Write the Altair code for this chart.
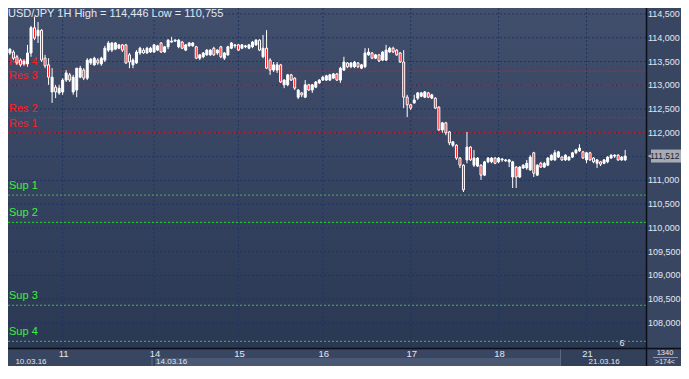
import altair as alt
import pandas as pd

# ---------------- data ----------------
opens = [113.68, 113.70, 113.60, 113.53, 113.45, 113.45, 113.68, 114.21, 114.04, 114.16,
         113.57, 113.43, 112.86, 112.96, 112.84, 112.86, 113.11, 113.22, 112.86, 112.90,
         113.17, 113.32, 113.15, 113.47, 113.43, 113.53, 113.45, 113.53, 113.74, 113.74,
         113.76, 113.78, 113.85, 113.85, 113.64, 113.43, 113.47, 113.68, 113.74, 113.68,
         113.70, 113.70, 113.74, 113.89, 113.70, 113.81, 113.91, 113.93, 113.81, 113.91,
         113.74, 113.83, 113.83, 113.81, 113.57, 113.60, 113.64, 113.64, 113.78, 113.68,
         113.81, 113.57, 113.64, 113.78, 113.83, 113.85, 113.78, 113.81, 113.78, 113.81,
         113.85, 113.95, 113.60, 113.78, 113.53, 113.32, 113.32, 113.43, 113.01, 113.01,
         113.22, 113.15, 112.75, 112.84, 112.75, 113.01, 112.90, 112.96, 113.05, 113.11,
         113.11, 113.11, 113.15, 113.24, 113.11, 113.32, 113.47, 113.39, 113.39, 113.47,
         113.36, 113.39, 113.64, 113.68, 113.57, 113.64, 113.53, 113.53, 113.70, 113.78,
         113.74, 113.68, 113.49, 112.75, 112.59, 112.63, 112.73, 112.77, 112.75, 112.84,
         112.73, 112.73, 112.54, 112.06, 112.21, 112.02, 111.74, 111.74, 111.47, 111.32,
         111.43, 111.70, 111.32, 111.30, 111.32, 111.11, 111.39, 111.39, 111.47, 111.39,
         111.43, 111.41, 111.39, 111.07, 111.28, 111.07, 111.26, 111.26, 111.22, 111.58,
         111.11, 111.36, 111.28, 111.32, 111.43, 111.43, 111.49, 111.49, 111.43, 111.43,
         111.49, 111.58, 111.62, 111.60, 111.43, 111.58, 111.47, 111.36, 111.39, 111.36,
         111.39, 111.47, 111.51, 111.53, 111.43, 111.43]
highs = [113.78, 113.74, 113.64, 113.57, 113.55, 113.85, 114.25, 114.446, 114.33, 114.18,
         113.64, 113.57, 113.36, 113.01, 113.01, 113.15, 113.32, 113.26, 113.22, 113.36,
         113.41, 113.36, 113.57, 113.57, 113.60, 113.57, 113.60, 113.83, 113.93, 113.91,
         113.91, 113.87, 113.87, 113.87, 113.68, 113.57, 113.74, 113.81, 113.78, 113.81,
         113.81, 113.87, 113.85, 113.91, 113.83, 113.97, 114.02, 113.97, 113.97, 113.93,
         113.87, 113.91, 113.91, 113.83, 113.66, 113.70, 113.76, 113.76, 113.81, 113.76,
         113.83, 113.70, 113.83, 113.91, 113.87, 113.87, 113.87, 113.85, 113.87, 113.93,
         113.97, 113.97, 114.06, 114.16, 113.57, 113.49, 113.49, 113.45, 113.13, 113.24,
         113.24, 113.17, 112.92, 112.86, 113.11, 113.03, 113.03, 113.09, 113.13, 113.20,
         113.22, 113.24, 113.26, 113.26, 113.39, 113.60, 113.49, 113.49, 113.51, 113.49,
         113.45, 113.78, 113.78, 113.70, 113.66, 113.66, 113.72, 113.85, 113.81, 113.81,
         113.76, 113.70, 113.74, 112.80, 112.61, 112.80, 112.86, 112.86, 112.88, 112.86,
         112.82, 112.75, 112.56, 112.23, 112.23, 112.04, 111.83, 111.76, 111.49, 111.34,
         112.02, 111.72, 111.64, 111.49, 111.34, 111.41, 111.49, 111.49, 111.49, 111.49,
         111.47, 111.45, 111.45, 111.41, 111.30, 111.30, 111.34, 111.43, 111.53, 111.60,
         111.34, 111.39, 111.39, 111.49, 111.55, 111.64, 111.62, 111.51, 111.55, 111.51,
         111.60, 111.66, 111.76, 111.62, 111.60, 111.60, 111.49, 111.45, 111.41, 111.45,
         111.51, 111.55, 111.55, 111.55, 111.51, 111.64]
lows = [113.64, 113.53, 113.43, 113.39, 113.41, 113.39, 113.60, 113.95, 113.89, 113.49,
        113.36, 113.01, 112.63, 112.73, 112.80, 112.80, 113.07, 113.07, 112.80, 112.75,
        113.15, 113.11, 113.11, 113.43, 113.41, 113.43, 113.41, 113.49, 113.70, 113.70,
        113.74, 113.76, 113.70, 113.45, 113.36, 113.36, 113.45, 113.64, 113.66, 113.66,
        113.68, 113.68, 113.72, 113.68, 113.68, 113.76, 113.89, 113.91, 113.78, 113.76,
        113.72, 113.81, 113.81, 113.55, 113.53, 113.57, 113.62, 113.62, 113.62, 113.64,
        113.57, 113.53, 113.62, 113.76, 113.78, 113.72, 113.76, 113.78, 113.76, 113.78,
        113.83, 113.72, 113.57, 113.34, 113.22, 113.28, 113.26, 113.05, 112.94, 112.98,
        113.09, 112.90, 112.71, 112.75, 112.73, 112.88, 112.84, 112.94, 113.03, 113.09,
        113.09, 113.09, 113.13, 113.09, 113.05, 113.30, 113.36, 113.36, 113.36, 113.36,
        113.34, 113.36, 113.62, 113.55, 113.55, 113.49, 113.51, 113.51, 113.68, 113.68,
        113.62, 113.47, 112.52, 112.33, 112.48, 112.61, 112.69, 112.75, 112.73, 112.73,
        112.71, 112.50, 112.04, 112.00, 111.95, 111.74, 111.70, 111.43, 111.26, 110.755,
        111.36, 111.41, 111.28, 111.28, 111.01, 111.09, 111.36, 111.36, 111.34, 111.36,
        111.39, 111.39, 111.28, 110.84, 110.84, 111.05, 111.24, 111.22, 111.20, 111.07,
        111.09, 111.26, 111.26, 111.30, 111.41, 111.41, 111.47, 111.41, 111.41, 111.41,
        111.47, 111.55, 111.60, 111.45, 111.36, 111.41, 111.36, 111.26, 111.30, 111.34,
        111.36, 111.45, 111.47, 111.41, 111.41, 111.41]
closes = [113.76, 113.57, 113.47, 113.43, 113.51, 113.68, 114.21, 113.99, 114.16, 113.53,
          113.41, 113.17, 113.17, 112.86, 112.94, 113.11, 113.26, 113.11, 113.17, 113.36,
          113.36, 113.15, 113.53, 113.55, 113.57, 113.47, 113.57, 113.78, 113.89, 113.89,
          113.89, 113.85, 113.74, 113.47, 113.49, 113.53, 113.70, 113.78, 113.68, 113.78,
          113.78, 113.85, 113.83, 113.70, 113.81, 113.95, 113.93, 113.95, 113.95, 113.78,
          113.85, 113.89, 113.89, 113.57, 113.64, 113.68, 113.74, 113.74, 113.64, 113.74,
          113.60, 113.68, 113.81, 113.89, 113.85, 113.74, 113.85, 113.83, 113.85, 113.91,
          113.95, 113.74, 113.78, 113.36, 113.32, 113.43, 113.43, 113.07, 113.11, 113.22,
          113.11, 112.94, 112.90, 112.80, 113.01, 112.90, 113.01, 113.07, 113.11, 113.17,
          113.20, 113.22, 113.24, 113.11, 113.36, 113.49, 113.39, 113.47, 113.49, 113.39,
          113.43, 113.68, 113.70, 113.57, 113.64, 113.51, 113.70, 113.74, 113.78, 113.70,
          113.64, 113.49, 112.75, 112.59, 112.52, 112.69, 112.84, 112.84, 112.86, 112.75,
          112.80, 112.52, 112.06, 112.21, 112.00, 111.79, 111.81, 111.47, 111.32, 110.80,
          111.70, 111.43, 111.47, 111.47, 111.11, 111.39, 111.47, 111.47, 111.36, 111.47,
          111.45, 111.43, 111.43, 111.39, 111.07, 111.28, 111.32, 111.36, 111.49, 111.15,
          111.32, 111.28, 111.36, 111.47, 111.53, 111.58, 111.60, 111.43, 111.53, 111.49,
          111.58, 111.64, 111.68, 111.47, 111.58, 111.43, 111.39, 111.43, 111.34, 111.43,
          111.49, 111.53, 111.53, 111.43, 111.49, 111.512]

res_names = ["Res 4", "Res 3", "Res 2", "Res 1"]
res_levels = [113.295, 113.0, 112.32, 112.0]
sup_names = ["Sup 1", "Sup 2", "Sup 3", "Sup 4"]
sup_levels = [110.69, 110.118, 108.373, 107.615]

day_start_bar = [15, 41, 65, 89, 114, 139, 164]
day_labels = ["11", "14", "15", "16", "17", "18", "21"]
week_start_bar = [1, 41, 164]
week_labels = ["10.03.16", "14.03.16", "21.03.16"]

# grid every 0.5; the 111,500 label is hidden behind the last-price tag in the reference
price_ticks = [108.0, 108.5, 109.0, 109.5, 110.0, 110.5, 111.0, 111.5,
               112.0, 112.5, 113.0, 113.5, 114.0, 114.5]
price_labels = [108.0, 108.5, 109.0, 109.5, 110.0, 110.5, 111.0,
                112.0, 112.5, 113.0, 113.5, 114.0, 114.5]

title_text = "USD/JPY 1H  High = 114,446 Low = 110,755"
last_label = "111,512"
bars_count_label = "1340"
visible_label = ">174<"

# ---------------- chart ----------------
FONT = "Liberation Sans"
GRID = "#1f3560"
TXT = "#e2e7f0"
PW, PH = 638, 340          # plot area
TW, TH = 673, 358          # whole drawing (fits the window without scrolling)

candles = pd.DataFrame({"bar": list(range(len(closes))), "open": opens,
                        "high": highs, "low": lows, "close": closes})

xs = alt.Scale(domain=[0.88, 179.5], nice=False, zero=False)
ys = alt.Scale(domain=[107.474, 114.626], nice=False, zero=False)

one = pd.DataFrame({"k": [0]})

plot_bg = alt.Chart(one).mark_rect(
    color=alt.LinearGradient(gradient="linear",
                             stops=[alt.GradientStop(color="#414f6d", offset=0),
                                    alt.GradientStop(color="#2a3854", offset=1)],
                             x1=0, x2=0, y1=0, y2=1)).encode(
    x=alt.value(0), x2=alt.value(PW), y=alt.value(0), y2=alt.value(PH))

grid_h = alt.Chart(pd.DataFrame({"p": price_ticks})).mark_rule(
    color=GRID, strokeDash=[2, 2], strokeWidth=1).encode(
    y=alt.Y("p:Q", scale=ys, axis=None), x=alt.value(0), x2=alt.value(PW))
price_text = alt.Chart(pd.DataFrame({"p": price_labels})).transform_calculate(
    lbl="replace(format(datum.p, '.3f'), '.', ',')").mark_text(
    align="left", baseline="middle", font=FONT, fontSize=9, color=TXT).encode(
    x=alt.value(640), y=alt.Y("p:Q", scale=ys, axis=None), text="lbl:N")

days = pd.DataFrame({"bar": day_start_bar, "label": day_labels})
grid_v = alt.Chart(days).mark_rule(color=GRID, strokeDash=[2, 2], strokeWidth=1).encode(
    x=alt.X("bar:Q", scale=xs, axis=None), y=alt.value(0), y2=alt.value(PH))

res = pd.DataFrame({"name": res_names, "level": res_levels})
sup = pd.DataFrame({"name": sup_names, "level": sup_levels})

res_rules = alt.Chart(res).mark_rule(color="#d81818", strokeDash=[3, 2], strokeWidth=1).encode(
    y=alt.Y("level:Q", scale=ys, axis=None), x=alt.value(0), x2=alt.value(PW))
sup_rules = alt.Chart(sup).mark_rule(strokeDash=[2, 2], strokeWidth=1).encode(
    y=alt.Y("level:Q", scale=ys, axis=None), x=alt.value(0), x2=alt.value(PW),
    stroke=alt.condition("datum.name == 'Sup 2'", alt.value("#1ee61e"), alt.value("#3cbf3c")))
res_text = alt.Chart(res).mark_text(align="left", baseline="middle", dy=-9, font=FONT,
                                    fontSize=11, color="#ff1e1e").encode(
    x=alt.value(1), y=alt.Y("level:Q", scale=ys, axis=None), text="name:N")
sup_text = alt.Chart(sup).mark_text(align="left", baseline="middle", dy=-9, font=FONT,
                                    fontSize=11, color="#3cf03c").encode(
    x=alt.value(1), y=alt.Y("level:Q", scale=ys, axis=None), text="name:N")

wicks = alt.Chart(candles).mark_rule(color="white", strokeWidth=1, clip=True).encode(
    x=alt.X("bar:Q", scale=xs, axis=None),
    y=alt.Y("low:Q", scale=ys, axis=None), y2="high:Q")

bodies = alt.Chart(candles).mark_bar(
    width=2, stroke="white", strokeWidth=1, clip=True).encode(
    x=alt.X("bar:Q", scale=xs, axis=None),
    y=alt.Y("open:Q", scale=ys, axis=None), y2="close:Q",
    fill=alt.condition("datum.close >= datum.open", alt.value("#ffffff"), alt.value("#ff1515")))

title = alt.Chart(one).mark_text(align="left", baseline="top", font=FONT, fontSize=11,
                                 color=TXT, text=title_text).encode(
    x=alt.value(0), y=alt.value(0))

six = alt.Chart(one).mark_text(align="center", baseline="middle", font=FONT, fontSize=9,
                               color=TXT, text="6").encode(x=alt.value(614), y=alt.value(335))

# bottom panel decorations
strip = alt.Chart(one).mark_rect(color="#4b5873").encode(
    x=alt.value(143), x2=alt.value(552), y=alt.value(350), y2=alt.value(TH))
cur_week = alt.Chart(one).mark_rect(color="#334059").encode(
    x=alt.value(552), x2=alt.value(PW), y=alt.value(341), y2=alt.value(TH))
cur_week_edge = alt.Chart(one).mark_rule(color="#5b6680", strokeWidth=1).encode(
    x=alt.value(552.5), y=alt.value(341), y2=alt.value(TH))
week_line = alt.Chart(pd.DataFrame({"bar": [41]})).mark_rule(
    color="#1f3056", strokeWidth=1).encode(
    x=alt.X("bar:Q", scale=xs, axis=None), y=alt.value(341), y2=alt.value(TH))

day_text = alt.Chart(days).mark_text(baseline="middle", font=FONT, fontSize=9.5,
                                     color=TXT, dx=1).encode(
    x=alt.X("bar:Q", scale=xs, axis=None), y=alt.value(345.5), text="label:N")
weeks = pd.DataFrame({"bar": week_start_bar, "label": week_labels})
week_text = alt.Chart(weeks).mark_text(align="left", baseline="middle", font=FONT,
                                       fontSize=8, color=TXT, dx=2).encode(
    x=alt.X("bar:Q", scale=xs, axis=None), y=alt.value(353.5), text="label:N")

# frame lines
vline = alt.Chart(one).mark_rule(color="#0b0f18", strokeWidth=1.5).encode(
    x=alt.value(PW + 0.5), y=alt.value(0), y2=alt.value(TH))
hline = alt.Chart(one).mark_rule(color="#0b0f18", strokeWidth=1.5).encode(
    x=alt.value(0), x2=alt.value(TW), y=alt.value(PH + 0.5))

# bottom-right cell
cnt = alt.Chart(one).mark_text(align="center", baseline="middle", font=FONT, fontSize=7.5,
                               color=TXT, text=bars_count_label).encode(
    x=alt.value(657), y=alt.value(345))
cnt_line = alt.Chart(one).mark_rule(color="#8b94aa", strokeWidth=1).encode(
    x=alt.value(645), x2=alt.value(670), y=alt.value(349.5))
vis = alt.Chart(one).mark_text(align="center", baseline="middle", font=FONT, fontSize=7,
                               color=TXT, text=visible_label).encode(
    x=alt.value(657), y=alt.value(354))

# last price tag
last = candles.tail(1)
tag_box = alt.Chart(last).mark_tick(orient="horizontal", size=30, thickness=13,
                                     color="#a7abb4", opacity=1).encode(
    x=alt.value(658), y=alt.Y("close:Q", scale=ys, axis=None))
tag_arrow = alt.Chart(last).mark_point(shape="triangle-left", filled=True, size=60,
                                        color="#a7abb4", opacity=1).encode(
    x=alt.value(643), y=alt.Y("close:Q", scale=ys, axis=None))
tag_text = alt.Chart(last).mark_text(align="left", baseline="middle", font=FONT,
                                     fontSize=8.5, color="#1c2232", text=last_label).encode(
    x=alt.value(642), y=alt.Y("close:Q", scale=ys, axis=None))

chart = alt.layer(
    plot_bg, grid_h, grid_v, res_rules, sup_rules, res_text, sup_text, wicks, bodies,
    strip, cur_week, cur_week_edge, week_line, day_text, week_text,
    six, title, vline, hline, price_text, cnt, cnt_line, vis, tag_box, tag_arrow, tag_text
).properties(
    width=PW, height=PH,
    padding={"left": 0, "top": 0, "right": TW - PW, "bottom": TH - PH},
    autosize=alt.AutoSizeParams(type="none"),
).configure(background="#394662").configure_view(stroke=None)

chart.save("out.html", embed_options={"renderer": "svg", "actions": False})
